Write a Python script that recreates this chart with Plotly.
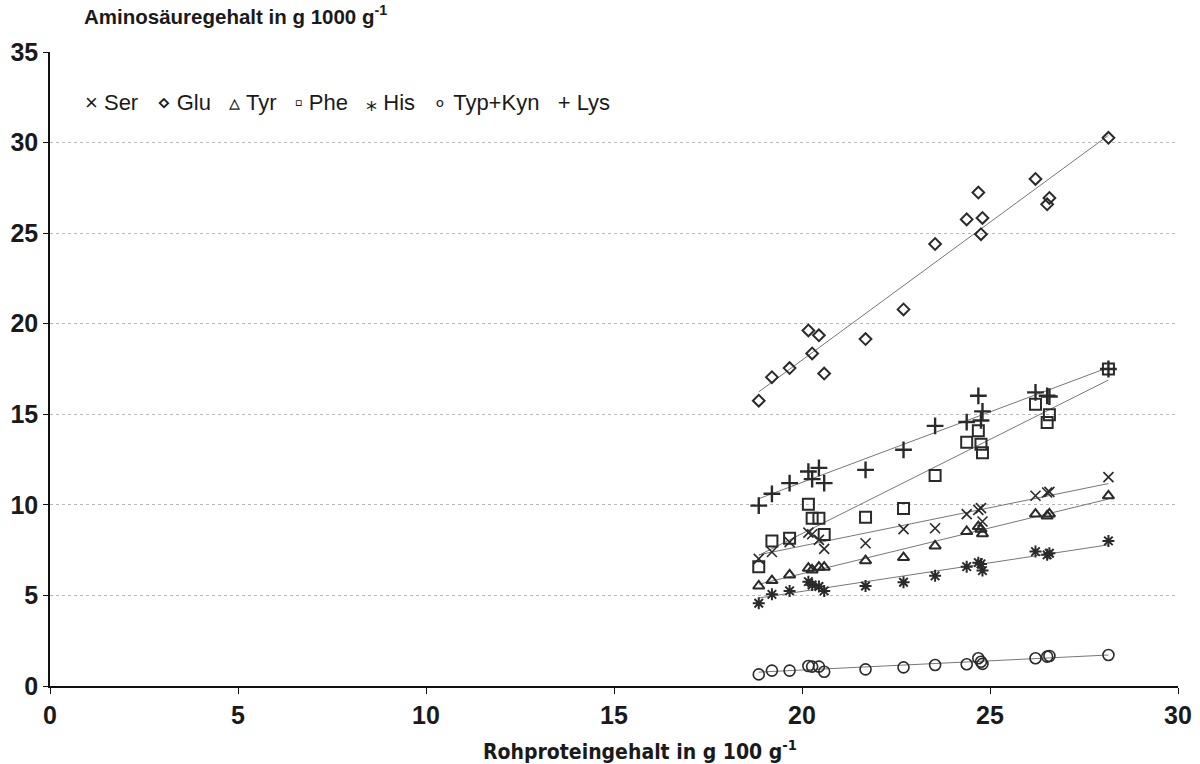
import numpy as np
import plotly.graph_objects as go

# Rohproteingehalt (g/100 g) of the 18 samples
rohprotein = [18.85, 19.20, 19.67, 20.17, 20.27, 20.45, 20.59, 21.69, 22.70,
              23.54, 24.38, 24.69, 24.76, 24.80, 26.21, 26.52, 26.58, 28.15]

ser = [7.02, 7.40, 7.94, 8.47, 8.38, 8.07, 7.57, 7.88, 8.66,
       8.71, 9.49, 9.72, 9.82, 9.08, 10.50, 10.68, 10.72, 11.53]
glu = [15.75, 17.05, 17.55, 19.63, 18.36, 19.36, 17.25, 19.15, 20.79,
       24.40, 25.76, 27.24, 24.94, 25.84, 27.99, 26.59, 26.94, 30.26]
tyr = [5.52, 5.82, 6.13, 6.50, 6.41, 6.56, 6.56, 6.92, 7.09,
       7.73, 8.53, 8.80, 8.66, 8.40, 9.49, 9.39, 9.50, 10.50]
phe = [6.59, 8.01, 8.16, 10.04, 9.26, 9.26, 8.36, 9.32, 9.80,
       11.62, 13.46, 14.09, 13.35, 12.87, 15.56, 14.55, 14.97, 17.50]
his = [4.57, 5.06, 5.25, 5.76, 5.58, 5.49, 5.25, 5.52, 5.73,
       6.08, 6.59, 6.81, 6.74, 6.37, 7.42, 7.24, 7.33, 8.01]
typkyn = [0.64, 0.85, 0.85, 1.10, 1.07, 1.07, 0.79, 0.92, 1.03,
          1.16, 1.20, 1.53, 1.34, 1.22, 1.53, 1.62, 1.66, 1.71]
lys = [9.96, 10.61, 11.20, 11.84, 11.42, 12.04, 11.20, 11.93, 13.04,
       14.36, 14.57, 16.02, 14.66, 15.16, 16.21, 16.02, 15.98, 17.50]

series_names = ["Ser", "Glu", "Tyr", "Phe", "His", "Typ+Kyn", "Lys"]
series_values = [ser, glu, tyr, phe, his, typkyn, lys]
legend_glyphs = ["×", "⋄", "▵", "▫", "⁎", "∘", "+"]
symbols = ["x-thin-open", "diamond-open", "triangle-up-open", "square-open",
           "asterisk-open", "circle-open", "cross-thin-open"]
sizes = [10, 9, 10, 11, 10, 11, 12]
widths = [1.6, 2, 2, 2, 2, 1.6, 2.4]

y_ticks = [0, 5, 10, 15, 20, 25, 30, 35]
x_ticks = [0, 5, 10, 15, 20, 25, 30]

fig = go.Figure()
x = np.array(rohprotein)
xs = np.array([x.min(), x.max()])
for name, vals in zip(series_names, series_values):
    k, d = np.polyfit(x, np.array(vals), 1)
    fig.add_trace(go.Scatter(x=xs, y=k * xs + d, mode="lines",
                             line=dict(color="#777777", width=1),
                             showlegend=False, hoverinfo="skip"))

for name, vals, sym, sz, w in zip(series_names, series_values, symbols, sizes, widths):
    fig.add_trace(go.Scatter(x=rohprotein, y=vals, mode="markers", name=name,
                             showlegend=False,
                             marker=dict(symbol=sym, size=sz, color="#2a2a2a",
                                         line=dict(color="#2a2a2a", width=w))))

tickfont = dict(size=25, family="Liberation Sans, Arial, sans-serif",
                color="#1a1a1a", weight="bold")
fig.update_layout(
    width=1200, height=764,
    margin=dict(l=50, r=22, t=52, b=78),
    paper_bgcolor="white", plot_bgcolor="white",
    font=dict(family="Liberation Sans, Arial, sans-serif", color="#111111"),
    showlegend=False,
    xaxis=dict(range=[0, 30], tickvals=x_ticks, showgrid=False, zeroline=False,
               showline=True, linecolor="#111111", linewidth=1.5,
               ticks="outside", ticklen=6, tickcolor="#111111",
               tickfont=tickfont, automargin=False),
    yaxis=dict(range=[0, 35], tickvals=y_ticks, showgrid=True,
               gridcolor="#b8b8b8", griddash="dot", gridwidth=1,
               zeroline=False, showline=True, linecolor="#111111", linewidth=1.5,
               ticks="outside", ticklen=5, tickcolor="#111111",
               tickfont=tickfont, automargin=False),
)

legend_text = "   ".join(f"{g} {n}" for g, n in zip(legend_glyphs, series_names))
fig.add_annotation(text=legend_text, xref="paper", yref="paper",
                   x=0.029, y=0.92, xanchor="left", yanchor="middle",
                   showarrow=False,
                   font=dict(size=22, color="#1a1a1a",
                             family="Liberation Sans, Arial, sans-serif"))

fig.add_annotation(text="<b>Aminosäuregehalt in g 1000 g<sup>-1</sup></b>",
                   xref="paper", yref="paper", x=0.028, y=1.0, yshift=22,
                   xanchor="left", yanchor="bottom", showarrow=False,
                   font=dict(size=20.5, color="#1a1a1a",
                             family="Liberation Sans, Arial, sans-serif"))
fig.add_annotation(text="<b>Rohproteingehalt in g 100 g<sup>-1</sup></b>",
                   xref="paper", yref="paper", x=0.523, y=0, yshift=-48,
                   xanchor="center", yanchor="top", showarrow=False,
                   font=dict(size=21, color="#1a1a1a",
                             family="Liberation Sans Narrow, DejaVu Sans Condensed, Arial Narrow, sans-serif"))

fig.write_html("out.html", config={"displayModeBar": False},
               post_script="document.body.style.margin='0';document.body.style.overflow='hidden';")
